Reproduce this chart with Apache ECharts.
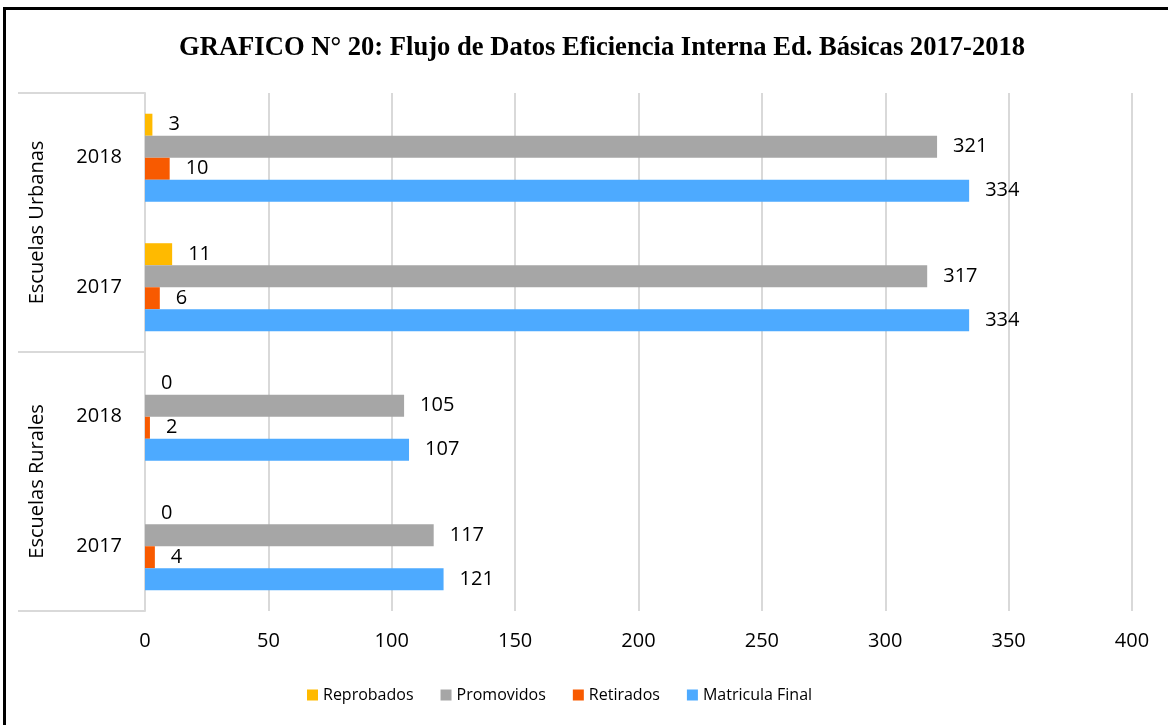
<!DOCTYPE html>
<html>
<head>
<meta charset="utf-8">
<script src="https://cdn.jsdelivr.net/npm/echarts@6/dist/echarts.min.js"></script>
<style>
  html, body { margin: 0; padding: 0; background: #fff; }
  #chart { width: 1168px; height: 725px; }
</style>
</head>
<body>
<div id="chart"></div>
<script>
// categories bottom -> top
const years = ["2017", "2018", "2017", "2018"];
const groups = ["Escuelas Rurales", "Escuelas Urbanas"];
const seriesNames = ["Reprobados", "Promovidos", "Retirados", "Matricula Final"];
const reprobados = [0, 0, 11, 3];
const promovidos = [117, 105, 317, 321];
const retirados = [4, 2, 6, 10];
const matriculaFinal = [121, 107, 334, 334];
const colors = ["#FFBA00", "#A6A6A6", "#F85A00", "#4DAAFF"];
const xTicks = [0, 50, 100, 150, 200, 250, 300, 350, 400];

const chart = echarts.init(document.getElementById("chart"), null, { renderer: "canvas" });
const font = "'Open Sans', 'Noto Sans', sans-serif";
const gridLine = "#D9D9D9";

const makeSeries = (name, data, color) => ({
  name,
  type: "bar",
  data,
  barGap: "0%",
  barCategoryGap: "32%",
  itemStyle: { color },
  label: {
    show: true,
    position: "right",
    distance: 16,
    color: "#000",
    fontSize: 20,
    fontFamily: font,
  },
});

chart.setOption({
  animation: false,
  title: {
    text: "GRAFICO N° 20: Flujo de Datos Eficiencia Interna Ed. Básicas 2017-2018",
    left: 174,
    top: 30,
    textStyle: {
      fontFamily: "'Liberation Serif', 'DejaVu Serif', serif",
      fontWeight: "bold",
      fontSize: 26.6,
      color: "#000",
    },
  },
  legend: {
    bottom: 17,
    left: 302,
    icon: "rect",
    itemWidth: 11,
    itemHeight: 11,
    itemGap: 27,
    data: seriesNames,
    textStyle: { fontFamily: font, fontSize: 16, color: "#000" },
  },
  grid: { left: 145, right: 36, top: 93, bottom: 114 },
  xAxis: {
    type: "value",
    min: xTicks[0],
    max: xTicks[xTicks.length - 1],
    interval: 50,
    axisLine: { show: false },
    axisTick: { show: false },
    axisLabel: { color: "#000", fontSize: 20, fontFamily: font, margin: 20 },
    splitLine: { lineStyle: { color: gridLine, width: 2 } },
  },
  yAxis: [
    {
      type: "category",
      data: years,
      position: "left",
      axisLine: { show: true, lineStyle: { color: gridLine, width: 2 } },
      axisTick: { show: false },
      axisLabel: { color: "#000", fontSize: 20, fontFamily: font, margin: 23 },
    },
    {
      type: "category",
      data: groups,
      position: "left",
      offset: 0,
      axisLine: { show: false },
      axisTick: { show: true, length: 127, lineStyle: { color: gridLine, width: 2 } },
      axisLabel: {
        rotate: 90,
        color: "#000",
        fontSize: 20,
        fontFamily: font,
        margin: 98,
      },
    },
  ],
  graphic: [
    {
      type: "rect",
      shape: { x: 4.5, y: 8.5, width: 1200, height: 800 },
      style: { fill: "none", stroke: "#000", lineWidth: 3 },
      silent: true,
    },
  ],
  series: [
    makeSeries(seriesNames[0], reprobados, colors[0]),
    makeSeries(seriesNames[1], promovidos, colors[1]),
    makeSeries(seriesNames[2], retirados, colors[2]),
    makeSeries(seriesNames[3], matriculaFinal, colors[3]),
  ],
});
</script>
</body>
</html>
